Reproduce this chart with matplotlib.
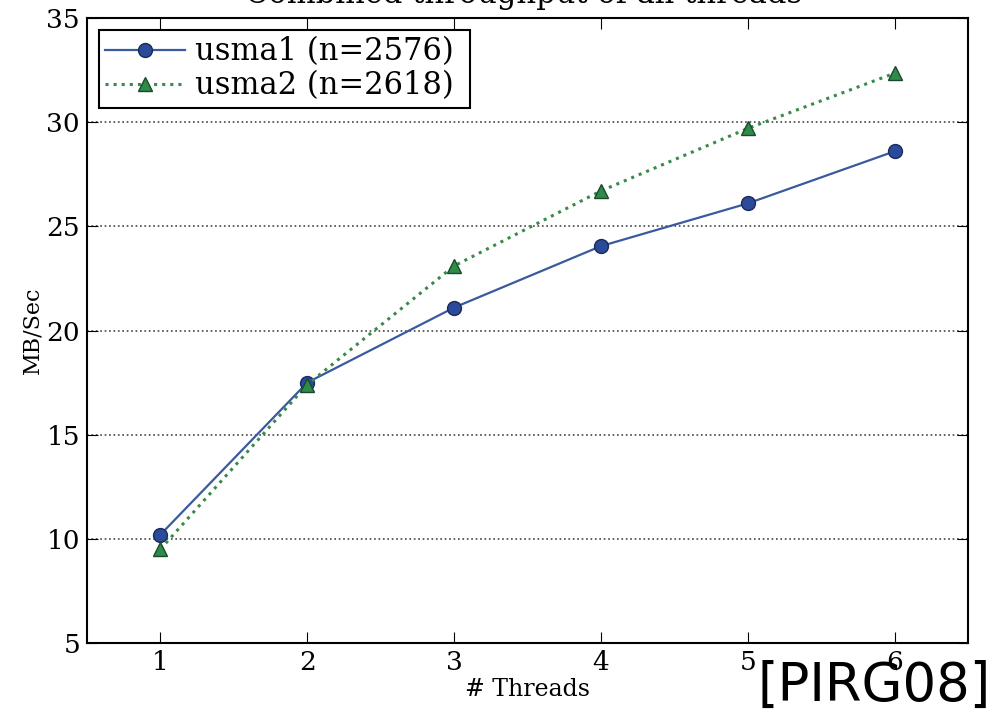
import matplotlib
matplotlib.use("Agg")
import matplotlib.pyplot as plt

threads = [1, 2, 3, 4, 5, 6]
usma1 = [10.2, 17.5, 21.1, 24.05, 26.1, 28.6]
usma2 = [9.5, 17.4, 23.1, 26.7, 29.7, 32.35]
yticks = [5, 10, 15, 20, 25, 30, 35]

plt.rcParams['font.family'] = ['DejaVu Serif']

fig = plt.figure(figsize=(9.93, 7.12), dpi=100)
ax = fig.add_axes([0.0876, 0.0969, 0.8872, 0.8778])

ax.plot(threads, usma1, '-o', color='#3a5a9f', lw=1.6, ms=10,
        mfc='#2c4a9a', mec='#1a2a5a', label='usma1 (n=2576)')
ax.plot(threads, usma2, ':^', color='#3a8a4a', lw=2.2, ms=10,
        mfc='#2e8b4a', mec='#1a4a2a', label='usma2 (n=2618)')

ax.set_xlim(0.5, 6.5)
ax.set_ylim(5, 35)
ax.set_xticks(threads)
ax.set_yticks(yticks)
ax.yaxis.grid(True, linestyle=':', color='#444444', lw=1.2)
ax.tick_params(direction='in', top=True, right=True, length=8, labelsize=19, pad=5)
for s in ax.spines.values():
    s.set_linewidth(1.5)

ax.set_xlabel('# Threads', fontsize=17, labelpad=2)
ax.set_ylabel('MB/Sec', fontsize=16, labelpad=2)

leg = ax.legend(loc='upper left', fontsize=22, fancybox=False, framealpha=1,
                edgecolor='black', borderpad=0.2, labelspacing=0.1,
                handlelength=2.6, handletextpad=0.35, borderaxespad=0.4)
leg.get_frame().set_linewidth(1.5)
for t in leg.get_texts():
    t.set_text(t.get_text() + ' ')

fig.text(0.527, 1 - 3 / 712, 'Combined throughput of all threads', fontsize=22,
         ha='center', va='baseline')
fig.text(0.998, 0.0, '[PIRG08]', family='DejaVu Sans', fontsize=38,
         ha='right', va='bottom')

fig.savefig('out.png', dpi=100)
